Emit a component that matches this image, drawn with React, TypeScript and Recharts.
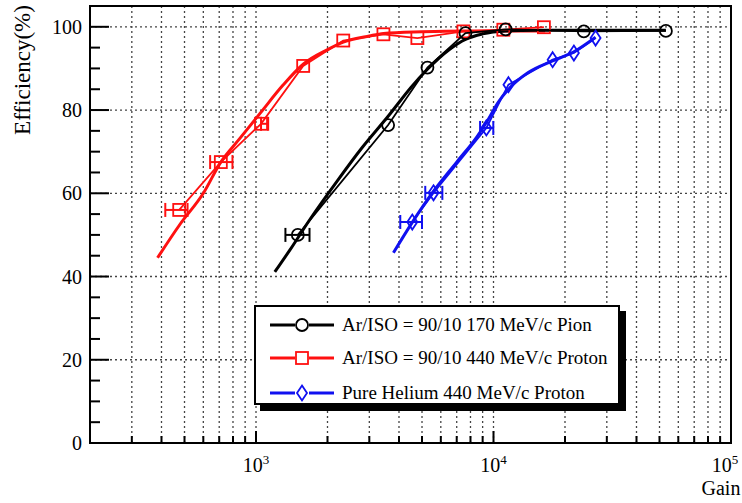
import {
  ComposedChart,
  Line,
  Scatter,
  ErrorBar,
  XAxis,
  YAxis,
  CartesianGrid,
  ReferenceArea,
} from 'recharts';

const FONT = '"Liberation Serif", "Times New Roman", serif';

// measured points (gain, efficiency %, horizontal error)
const pionPoints = [
  { x: 1500, y: 50.0, ex: [170, 180] },
  { x: 3600, y: 76.4 },
  { x: 5270, y: 90.2 },
  { x: 7620, y: 98.5 },
  { x: 11250, y: 99.4 },
  { x: 24000, y: 98.9 },
  { x: 53200, y: 99.0 },
];
const protonArPoints = [
  { x: 475, y: 56.0, ex: [60, 40] },
  { x: 711, y: 67.5, ex: [70, 85] },
  { x: 1050, y: 76.7, ex: [0, 75] },
  { x: 1580, y: 90.6 },
  { x: 2330, y: 96.7 },
  { x: 3440, y: 98.2 },
  { x: 4780, y: 97.3 },
  { x: 7470, y: 98.9 },
  { x: 11000, y: 99.3 },
  { x: 16300, y: 99.9 },
];
const heliumPoints = [
  { x: 4550, y: 53.1, ex: [500, 450] },
  { x: 5590, y: 60.1, ex: [430, 500] },
  { x: 9330, y: 75.7, ex: [550, 650] },
  { x: 11560, y: 86.1 },
  { x: 17740, y: 92.1 },
  { x: 21800, y: 93.7 },
  { x: 26900, y: 97.3 },
];

// fitted curves
const pionFit = [
  { x: 1200, y: 41.1 },
  { x: 1390, y: 46.4 },
  { x: 1700, y: 54 },
  { x: 2200, y: 63 },
  { x: 2800, y: 71 },
  { x: 3600, y: 78.5 },
  { x: 4500, y: 85.5 },
  { x: 5270, y: 89.8 },
  { x: 6500, y: 94.5 },
  { x: 7620, y: 97 },
  { x: 9000, y: 98.3 },
  { x: 11250, y: 99 },
  { x: 15000, y: 99.2 },
  { x: 25000, y: 99.2 },
  { x: 53200, y: 99.2 },
];
const protonArFit = [
  { x: 385, y: 44.5 },
  { x: 478, y: 52.5 },
  { x: 600, y: 60 },
  { x: 711, y: 67.5 },
  { x: 850, y: 73 },
  { x: 1050, y: 79.5 },
  { x: 1300, y: 86 },
  { x: 1580, y: 91 },
  { x: 2000, y: 94.5 },
  { x: 2330, y: 96.3 },
  { x: 3000, y: 97.8 },
  { x: 3440, y: 98.4 },
  { x: 5000, y: 98.8 },
  { x: 7500, y: 99 },
  { x: 11000, y: 99 },
  { x: 16500, y: 99 },
];
const heliumFit = [
  { x: 3790, y: 45.7 },
  { x: 4550, y: 53 },
  { x: 5590, y: 60.5 },
  { x: 7000, y: 67.5 },
  { x: 8500, y: 73.5 },
  { x: 9330, y: 77 },
  { x: 10500, y: 82 },
  { x: 11560, y: 85 },
  { x: 14000, y: 89 },
  { x: 17740, y: 91.8 },
  { x: 21800, y: 94 },
  { x: 26900, y: 97.5 },
];

const xTicks = [
  200, 300, 400, 500, 600, 700, 800, 900,
  1000, 2000, 3000, 4000, 5000, 6000, 7000, 8000, 9000,
  10000, 20000, 30000, 40000, 50000, 60000, 70000, 80000, 90000,
  100000,
];
const xGrid = xTicks.filter((t) => t > 200 && t < 100000);
const yTicks = [0, 5, 10, 15, 20, 25, 30, 35, 40, 45, 50, 55, 60, 65, 70, 75, 80, 85, 90, 95, 100];
const yGrid = [20, 40, 60, 80, 100];

const RED = '#ff1010';
const BLUE = '#1010f0';

const legendItems = [
  { name: 'Ar/ISO = 90/10 170 MeV/c Pion', color: '#000000', shape: 'circle' },
  { name: 'Ar/ISO = 90/10 440 MeV/c Proton', color: RED, shape: 'square' },
  { name: 'Pure Helium 440 MeV/c Proton', color: BLUE, shape: 'diamond' },
];

function Marker({ shape, cx, cy, color }: any) {
  if (shape === 'circle') {
    return <circle cx={cx} cy={cy} r={6} fill="none" stroke={color} strokeWidth={1.8} />;
  }
  if (shape === 'square') {
    return <rect x={cx - 6} y={cy - 6} width={12} height={12} fill="none" stroke={color} strokeWidth={1.8} />;
  }
  return (
    <path
      d={`M${cx},${cy - 7.5} L${cx + 5},${cy} L${cx},${cy + 7.5} L${cx - 5},${cy} Z`}
      fill="none"
      stroke={color}
      strokeWidth={1.8}
    />
  );
}

const XTick = ({ x, y, payload }: any) => {
  const v = payload.value;
  const lg = Math.log10(v);
  const exp = Math.round(lg);
  const major = Math.abs(lg - exp) < 1e-6;
  return (
    <g>
      <line x1={x} x2={x} y1={y} y2={y - (major ? 12 : 7)} stroke="#000" strokeWidth={2} />
      {major && (
        <text x={Math.min(x, 725)} y={y + 29} textAnchor="middle" fontFamily={FONT} fontSize={20} fill="#000">
          10
          <tspan dy={-8} fontSize={13}>
            {exp}
          </tspan>
        </text>
      )}
    </g>
  );
};

const YTick = ({ x, y, payload }: any) => {
  const v = payload.value;
  const major = v % 20 === 0;
  return (
    <g>
      <line x1={x} x2={x + (major ? 19 : 10)} y1={y} y2={y} stroke="#000" strokeWidth={2} />
      {major && (
        <text x={x - 8} y={y + 7} textAnchor="end" fontFamily={FONT} fontSize={20} fill="#000">
          {v}
        </text>
      )}
    </g>
  );
};

export default function App() {
  return (
    <div style={{ position: 'absolute', left: 0, top: 0, width: 742, height: 503, background: '#fff' }}>
      <ComposedChart width={742} height={503} margin={{ top: 6, right: 11, bottom: 0, left: 0 }}>
        <CartesianGrid
          horizontalValues={yGrid}
          verticalValues={xGrid}
          stroke="#444"
          strokeDasharray="2 3"
          strokeWidth={1.3}
        />
        <XAxis
          type="number"
          dataKey="x"
          scale="log"
          domain={[200, 100000]}
          allowDataOverflow
          ticks={xTicks}
          interval={0}
          tick={<XTick />}
          tickLine={false}
          tickSize={0}
          tickMargin={0}
          height={60}
          axisLine={{ stroke: '#000', strokeWidth: 2 }}
          label={{
            content: ({ viewBox }: any) => (
              <text
                x={viewBox.x + viewBox.width - 10}
                y={viewBox.y + 52}
                textAnchor="middle"
                fontFamily={FONT}
                fontSize={20}
                fill="#000"
              >
                Gain
              </text>
            ),
          }}
        />
        <YAxis
          type="number"
          dataKey="y"
          domain={[0, 105]}
          allowDataOverflow
          ticks={yTicks}
          interval={0}
          tick={<YTick />}
          tickLine={false}
          tickSize={0}
          tickMargin={0}
          width={90}
          axisLine={{ stroke: '#000', strokeWidth: 2 }}
          label={{
            content: () => (
              <text
                x={0}
                y={0}
                transform="translate(30, 70) rotate(-90)"
                textAnchor="middle"
                fontFamily={FONT}
                fontSize={23}
                fill="#000"
              >
                Efficiency(%)
              </text>
            ),
          }}
        />
        <ReferenceArea x1={200} x2={100000} y1={0} y2={105} fill="none" stroke="#000" strokeWidth={2} />

        <Line data={protonArFit} dataKey="y" type="monotone" stroke={RED} strokeWidth={3} dot={false} isAnimationActive={false} />
        <Line data={pionFit} dataKey="y" type="monotone" stroke="#000" strokeWidth={3} dot={false} isAnimationActive={false} />
        <Line data={heliumFit} dataKey="y" type="monotone" stroke={BLUE} strokeWidth={3} dot={false} isAnimationActive={false} />

        <Scatter
          data={protonArPoints}
          dataKey="y"
          line={{ stroke: RED, strokeWidth: 1.8 }}
          lineType="joint"
          shape={(p: any) => <Marker shape="square" cx={p.cx} cy={p.cy} color={RED} />}
          isAnimationActive={false}
        >
          <ErrorBar dataKey="ex" direction="x" width={7} stroke={RED} strokeWidth={2} />
        </Scatter>
        <Scatter
          data={pionPoints}
          dataKey="y"
          line={{ stroke: '#000', strokeWidth: 1.8 }}
          lineType="joint"
          shape={(p: any) => <Marker shape="circle" cx={p.cx} cy={p.cy} color="#000" />}
          isAnimationActive={false}
        >
          <ErrorBar dataKey="ex" direction="x" width={7} stroke="#000" strokeWidth={2} />
        </Scatter>
        <Scatter
          data={heliumPoints}
          dataKey="y"
          line={{ stroke: BLUE, strokeWidth: 1.8 }}
          lineType="joint"
          shape={(p: any) => <Marker shape="diamond" cx={p.cx} cy={p.cy} color={BLUE} />}
          isAnimationActive={false}
        >
          <ErrorBar dataKey="ex" direction="x" width={7} stroke={BLUE} strokeWidth={2} />
        </Scatter>
      </ComposedChart>

      <div
        style={{
          position: 'absolute',
          left: 254,
          top: 305,
          width: 366,
          height: 100,
          border: '2px solid #000',
          boxShadow: '6px 6px 0 #000',
          background: '#fff',
          boxSizing: 'border-box',
          fontFamily: FONT,
          fontSize: 19,
          color: '#000',
        }}
      >
        {legendItems.map((item, i) => (
          <div
            key={item.name}
            style={{
              position: 'absolute',
              left: 13,
              top: [18, 51, 86][i] - 12,
              height: 24,
              display: 'flex',
              alignItems: 'center',
              whiteSpace: 'nowrap',
            }}
          >
            <svg width={66} height={24} style={{ marginRight: 7 }}>
              <line x1={1} x2={65} y1={12} y2={12} stroke={item.color} strokeWidth={3} />
              <rect x={26} y={4} width={14} height={16} fill="#fff" />
              <Marker shape={item.shape} cx={33} cy={12} color={item.color} />
            </svg>
            <span>{item.name}</span>
          </div>
        ))}
      </div>
    </div>
  );
}
